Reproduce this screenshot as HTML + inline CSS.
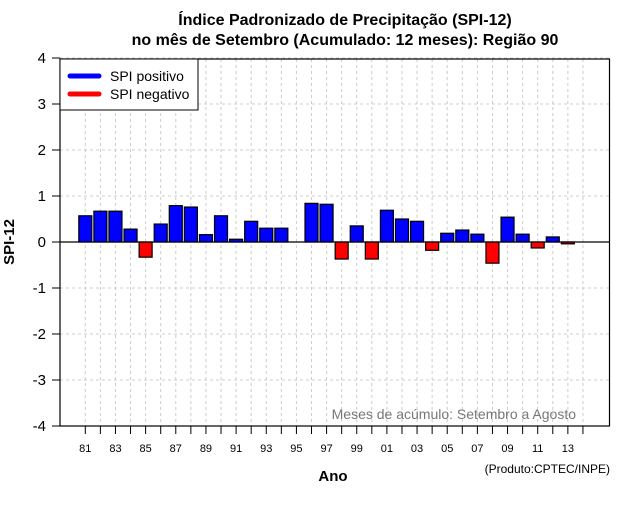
<!DOCTYPE html>
<html><head><meta charset="utf-8"><style>
body{margin:0;background:#fff}
svg text{font-family:"Liberation Sans",Arial,sans-serif}
</style></head><body>
<svg id="chart" width="640" height="500" xmlns="http://www.w3.org/2000/svg">
<text x="345" y="25" text-anchor="middle" font-size="16" font-weight="bold">Índice Padronizado de Precipitação (SPI-12)</text>
<text x="345" y="45" text-anchor="middle" font-size="16" font-weight="bold">no mês de Setembro (Acumulado: 12 meses): Região 90</text>
<g id="grid"></g>
<g id="bars"></g>
<g id="axes"></g>
<text x="14" y="242" text-anchor="middle" font-size="15" font-weight="bold" transform="rotate(-90 14 242)">SPI-12</text>
<text x="333" y="481" text-anchor="middle" font-size="15" font-weight="bold">Ano</text>
<text x="576" y="419" text-anchor="end" font-size="14" fill="#777">Meses de acúmulo: Setembro a Agosto</text>
<text x="610" y="473" text-anchor="end" font-size="12">(Produto:CPTEC/INPE)</text>
<g>
<rect x="60" y="59" width="138" height="51" fill="#fff" stroke="#000" stroke-width="1"/>
<line x1="70" y1="76" x2="99" y2="76" stroke="#00f" stroke-width="5" stroke-linecap="round"/>
<text x="110" y="81" font-size="14">SPI positivo</text>
<line x1="70" y1="94" x2="99" y2="94" stroke="#f00" stroke-width="5" stroke-linecap="round"/>
<text x="110" y="99" font-size="14">SPI negativo</text>
</g>
</svg>
<script>
const years = [1981,1982,1983,1984,1985,1986,1987,1988,1989,1990,1991,1992,1993,1994,1995,1996,1997,1998,1999,2000,2001,2002,2003,2004,2005,2006,2007,2008,2009,2010,2011,2012,2013,2014];
const spiValues = [0.57,0.67,0.67,0.28,-0.33,0.39,0.79,0.76,0.16,0.57,0.06,0.45,0.30,0.30,0,0.84,0.82,-0.37,0.35,-0.37,0.69,0.50,0.45,-0.18,0.19,0.26,0.17,-0.46,0.54,0.17,-0.13,0.11,-0.04,0];
const yTicks = [-4,-3,-2,-1,0,1,2,3,4];
const xLabelYears = [1981,1983,1985,1987,1989,1991,1993,1995,1997,1999,2001,2003,2005,2007,2009,2011,2013];

const NS="http://www.w3.org/2000/svg";
const L=60,R=609.5,T=59,B=426;
function xs(yr){return 85.3+(yr-1981)*15.08;}
function ys(v){return 242-v*46;}
function mk(tag,attrs,parent){const e=document.createElementNS(NS,tag);for(const k in attrs)e.setAttribute(k,attrs[k]);parent.appendChild(e);return e;}
const grid=document.getElementById('grid'),bars=document.getElementById('bars'),axes=document.getElementById('axes');
years.forEach(yr=>{
  const g=mk('line',{x1:xs(yr),x2:xs(yr),y1:T,y2:B,stroke:'#ccc','stroke-dasharray':'3,3'},grid);
  
  
});
yTicks.forEach(v=>{
  const g=mk('line',{x1:L,x2:R,y1:ys(v),y2:ys(v),stroke:'#ccc','stroke-dasharray':'3,3'},grid);
  
  
  const t=mk('line',{x1:L-8,x2:L,y1:ys(v),y2:ys(v),stroke:'#000'},axes);
  
  
  const lb=mk('text',{x:L-14,y:ys(v)+5,'text-anchor':'end','font-size':'15'},axes);
  lb.textContent=String(v);
  
  
});
years.forEach((yr,i)=>{
  const v=spiValues[i];
  if(v===0)return;
  const y0=ys(0),y1=ys(v);
  const r=mk('rect',{x:xs(yr)-6.5,y:Math.min(y0,y1),width:13,height:Math.abs(y1-y0),fill:v>0?'#00f':'#f00',stroke:'#000','stroke-width':'1.2'},bars);
  
  
});
const z=mk('line',{x1:L,x2:R,y1:ys(0),y2:ys(0),stroke:'#000','stroke-width':'1.2'},axes);


const box=mk('rect',{x:L,y:T,width:R-L,height:B-T,fill:'none',stroke:'#000','stroke-width':'1.2'},axes);


years.forEach(yr=>{
  const t=mk('line',{x1:xs(yr),x2:xs(yr),y1:B,y2:B+8,stroke:'#000'},axes);
  
  
});
xLabelYears.forEach(yr=>{
  const t=mk('text',{x:xs(yr),y:452,'text-anchor':'middle','font-size':'11'},axes);
  t.textContent=String(yr%100).padStart(2,'0');
  
  
});
</script>
</body></html>
